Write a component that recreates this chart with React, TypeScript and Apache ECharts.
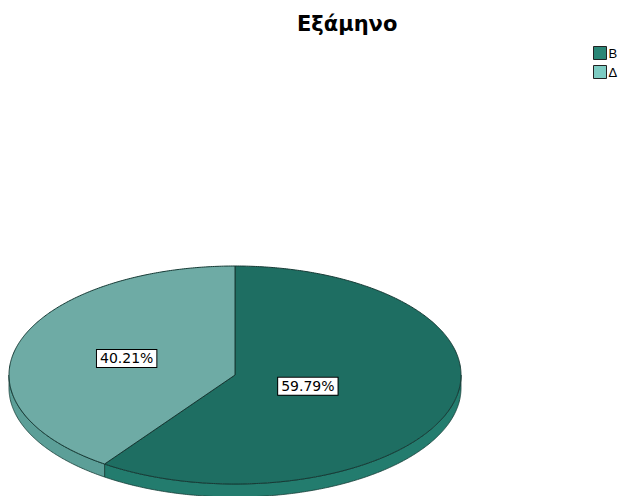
import React, { useEffect, useRef } from "react";
import * as echarts from "echarts";

const title = "Εξάμηνο";
const categories = ["B", "Δ"];
const percentages = [59.79, 40.21];

const topColors = ["#1e6e62", "#6eaba5"];
const sideColors = ["#237c6e", "#5c9f98"];
const legendColors = ["#2a8676", "#7dcbc2"];

export default function App() {
  const ref = useRef<HTMLDivElement>(null);

  useEffect(() => {
    const chart = echarts.init(ref.current!, null, { renderer: "svg" });
    const total = percentages.reduce((a, b) => a + b, 0);
    const starts: number[] = [];
    let acc = 0;
    percentages.forEach((v) => {
      starts.push(acc);
      acc += v;
    });

    const CX = 235, CY = 375, RX = 226, RY = 109, DEPTH = 13;
    const pt = (phi: number, dy = 0, f = 1) => [
      CX + RX * f * Math.sin(phi),
      CY - RY * f * Math.cos(phi) + dy,
    ];
    const arcPts = (a0: number, a1: number, dy = 0) => {
      const n = Math.max(2, Math.ceil(Math.abs(a1 - a0) / 0.01));
      const res: number[][] = [];
      for (let i = 0; i <= n; i++) res.push(pt(a0 + ((a1 - a0) * i) / n, dy));
      return res;
    };

    const series = categories.map((name, i) => ({
      type: "custom",
      name,
      coordinateSystem: "none",
      data: [[i, percentages[i]]],
      itemStyle: { color: legendColors[i], borderColor: "#222", borderWidth: 1 },
      renderItem: (params: any, api: any) => {
        const idx = api.value(0);
        const val = api.value(1);
        const a0 = (starts[idx] / total) * Math.PI * 2;
        const a1 = ((starts[idx] + val) / total) * Math.PI * 2;
        const children: any[] = [];
        const s0 = Math.max(a0, Math.PI / 2);
        const s1 = Math.min(a1, (Math.PI * 3) / 2);
        if (s1 > s0) {
          const upper = arcPts(s0, s1, 0);
          const lower = arcPts(s0, s1, DEPTH).reverse();
          children.push({
            type: "polygon",
            z2: 1,
            shape: { points: upper.concat(lower) },
            style: {
              fill: sideColors[idx],
              stroke: "#173d37",
              lineWidth: 0.8,
            },
          });
        }
        children.push({
          type: "polygon",
          z2: 5,
          shape: { points: [[CX, CY]].concat(arcPts(a0, a1, 0)) },
          style: { fill: topColors[idx], stroke: "#163a35", lineWidth: 1 },
        });
        const alpha = a1 - a0;
        const f = (2 * Math.sin(alpha / 2)) / (3 * (alpha / 2));
        const mid = (a0 + a1) / 2;
        const lp = pt(mid, 0, f);
        children.push({
          type: "text",
          z2: 10,
          x: lp[0],
          y: lp[1],
          style: {
            text: val.toFixed(2) + "%",
            align: "center",
            verticalAlign: "middle",
            fontSize: 14,
            fontFamily: "DejaVu Sans",
            fill: "#000",
            backgroundColor: "#ffffff",
            borderColor: "#000000",
            borderWidth: 1,
            padding: [2, 3, 1, 3],
          },
        });
        return { type: "group", children };
      },
    }));

    chart.setOption({
      animation: false,
      title: {
        text: title,
        left: 297,
        top: 13,
        padding: 0,
        textStyle: {
          fontSize: 21,
          fontWeight: "bold",
          color: "#000",
          fontFamily: "DejaVu Sans",
        },
      },
      legend: {
        data: categories,
        orient: "vertical",
        left: 593,
        top: 46,
        padding: 0,
        icon: "rect",
        itemWidth: 13,
        itemHeight: 13,
        itemGap: 5,
        itemStyle: { borderColor: "#222", borderWidth: 1 },
        textStyle: { fontSize: 13, color: "#000", fontFamily: "Liberation Sans, Arial", padding: [0, 0, 0, -3] },
      },
      series,
    });

    return () => chart.dispose();
  }, []);

  return (
    <div
      ref={ref}
      style={{ position: "fixed", left: 0, top: 0, width: 627, height: 496, background: "#fff" }}
    />
  );
}
